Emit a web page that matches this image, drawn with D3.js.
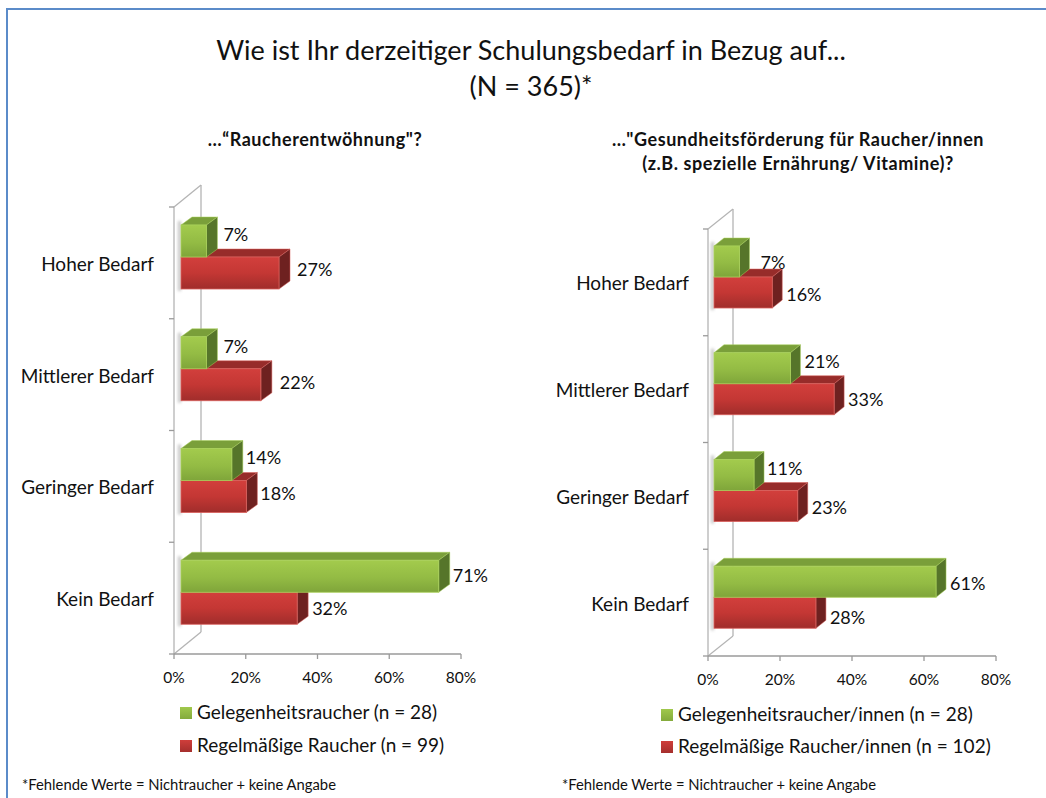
<!DOCTYPE html>
<html><head><meta charset="utf-8">
<script src="https://d3js.org/d3.v7.min.js"></script>
<style>html,body{margin:0;padding:0;background:#fff}svg{display:block}text{font-family:Lato,Carlito,"Open Sans",sans-serif;fill:#111}</style>
</head><body><div id="c"></div>
<script>
const categories=["Hoher Bedarf","Mittlerer Bedarf","Geringer Bedarf","Kein Bedarf"];
const ticks=[0,20,40,60,80];
const leftGreen=[7,7,14,71];
const leftRed=[27,22,18,32];
const rightGreen=[7,21,11,61];
const rightRed=[16,33,23,28];
const titleLines=["Wie ist Ihr derzeitiger Schulungsbedarf in Bezug auf...","(N = 365)*"];
const leftTitle=["…“Raucherentwöhnung\"?"];
const rightTitle=["…\"Gesundheitsförderung für Raucher/innen","(z.B. spezielle Ernährung/ Vitamine)?"];
const leftLegend=["Gelegenheitsraucher (n = 28)","Regelmäßige Raucher (n = 99)"];
const rightLegend=["Gelegenheitsraucher/innen (n = 28)","Regelmäßige Raucher/innen (n = 102)"];
const footnote="*Fehlende Werte = Nichtraucher + keine Angabe";

const W=1046,H=798;
const svg=d3.select("#c").append("svg").attr("width",W).attr("height",H);
const defs=svg.append("defs");
function grad(id,stops,x2,y2){const g=defs.append("linearGradient").attr("id",id).attr("x1",0).attr("y1",0).attr("x2",x2).attr("y2",y2);
 stops.forEach(([o,c])=>g.append("stop").attr("offset",o).attr("stop-color",c));}
grad("gF",[[0,"#a3cb4d"],[.55,"#93bb44"],[1,"#7fa53a"]],0,1);
grad("rF",[[0,"#d23f3c"],[.5,"#c43734"],[1,"#a02d2b"]],0,1);
grad("gL",[[0,"#a0c84c"],[1,"#84aa3c"]],0,1);
grad("rL",[[0,"#cf3e3b"],[1,"#a52f2d"]],0,1);
defs.append("filter").attr("id","blur").attr("x","-50%").attr("y","-50%").attr("width","200%").attr("height","200%")
 .append("feGaussianBlur").attr("stdDeviation",1.6);

svg.append("path").attr("d",`M7,${H}V9H${W}`).attr("fill","none").attr("stroke","#5b8bc9").attr("stroke-width",2);

const title=svg.append("g");
titleLines.forEach((t,i)=>title.append("text").attr("x",531).attr("y",[60,96][i]).attr("text-anchor","middle").attr("font-size",27).text(t));

function chart(o){
 const g=svg.append("g");
 const x=d3.scaleLinear().domain([0,80]).range([o.x0,o.x1]);
 const y=d3.scaleBand().domain(categories).range([o.yTop,o.yBot]);
 const k=o.scale;
 o.title.forEach((t,i)=>g.append("text").attr("x",o.titleX).attr("y",o.titleY+i*24).attr("text-anchor","middle")
   .attr("font-size",18).attr("font-weight",700).attr("letter-spacing",.55).text(t));
 const wall="#b4b4b4";
 const [dx,dy]=o.depth;
 const line=(x1,y1,x2,y2,c=wall,w=1.3)=>g.append("line").attr("x1",x1).attr("y1",y1).attr("x2",x2).attr("y2",y2).attr("stroke",c).attr("stroke-width",w);
 line(x(0),o.yTop,x(0),o.yBot);
 line(x(0)+dx,o.yTop+dy,x(0)+dx,o.yBot+dy);
 line(x(0),o.yTop,x(0)+dx,o.yTop+dy);
 line(x(0),o.yBot,x(0)+dx,o.yBot+dy);
 line(x(0),o.yBot,x(80),o.yBot,"#9a9a9a");
 ticks.forEach(t=>{line(x(t),o.yBot,x(t),o.yBot+5,"#9a9a9a");
  g.append("text").attr("x",x(t)).attr("y",o.yBot+29).attr("text-anchor","middle").attr("font-size",15.5).text(t+"%");});
 y.domain().map(c=>y(c)).concat([o.yBot]).forEach(v=>line(x(0)-5,v,x(0),v,"#9a9a9a"));
 categories.forEach(c=>g.append("text").attr("x",o.catX).attr("y",y(c)+y.bandwidth()/2+o.catDy).attr("text-anchor","end").attr("font-size",19).text(c));
 const h=o.barH,bx=x(0)+o.inset,[sx,sy]=o.side;
 const series=[{v:o.green,f:"gF",top:"#7a9f3a",side:"#56752a",edge:"#a9d05a",off:0},{v:o.red,f:"rF",top:"#972c2a",side:"#6e2120",edge:"#d9605c",off:h}];
 categories.forEach(c=>{g.append("rect").attr("x",bx-3).attr("y",y(c)+o.barTop-4).attr("width",3).attr("height",2*h+6).attr("fill","#c4c4c4").attr("filter","url(#blur)");});
 // red is drawn first: the green front and side cover its top face
 [series[1],series[0]].forEach(s=>{
  categories.forEach((c,i)=>{
   const yy=y(c)+o.barTop+s.off,w=s.v[i]*k,bar=g.append("g");
   bar.append("path").attr("d",d3.line()([[bx,yy],[bx+sx,yy+sy],[bx+w+sx,yy+sy],[bx+w,yy]])+"Z").attr("fill",s.top).attr("stroke",s.edge).attr("stroke-width",.5);
   bar.append("path").attr("d",d3.line()([[bx+w,yy],[bx+w+sx,yy+sy],[bx+w+sx,yy+sy+h],[bx+w,yy+h]])+"Z").attr("fill",s.side).attr("stroke",s.edge).attr("stroke-width",.5);
   bar.append("rect").attr("x",bx).attr("y",yy).attr("width",w).attr("height",h).attr("fill",`url(#${s.f})`).attr("stroke",s.edge).attr("stroke-width",.8);
  });
 });
 series.forEach((s,si)=>categories.forEach((c,i)=>{
   const n=o.nudge[si][i],yy=y(c)+o.barTop+s.off+h/2;
   g.append("text").attr("x",bx+s.v[i]*k+sx+n[0]).attr("y",yy+n[1]+6).attr("font-size",18).text(s.v[i]+"%");
 }));
 o.legend.forEach((t,i)=>{
  const ly=o.legY[i];
  g.append("rect").attr("x",o.legX).attr("y",ly-6).attr("width",12).attr("height",12).attr("fill",i?"url(#rL)":"url(#gL)");
  g.append("text").attr("x",o.legX+17).attr("y",ly+6).attr("font-size",19).text(t);
 });
 g.append("text").attr("x",o.footX).attr("y",790).attr("font-size",14.8).text(footnote);
}
chart({x0:174,x1:461,yTop:207,yBot:654,depth:[27,-22],inset:7,scale:3.63,side:[11,-8],barH:32,barTop:18,
 title:leftTitle,titleX:315,titleY:146,catX:154,catDy:8,green:leftGreen,red:leftRed,
 nudge:[[[6,-6],[6,-6],[3,-7],[3,0]],[[7,-3],[8,-2],[3,-3],[4,1]]],
 legend:leftLegend,legX:180,legY:[713,746],footX:22});
chart({x0:708,x1:996,yTop:229,yBot:656,depth:[25,-20],inset:6,scale:3.64,side:[10,-8],barH:31,barTop:17,
 title:rightTitle,titleX:798,titleY:146,catX:689,catDy:8,green:rightGreen,red:rightRed,
 nudge:[[[11,1],[4,-6],[3,-6],[4,2]],[[4,2],[4,1],[4,2],[4,5]]],
 legend:rightLegend,legX:661,legY:[715,747],footX:562});
</script></body></html>
